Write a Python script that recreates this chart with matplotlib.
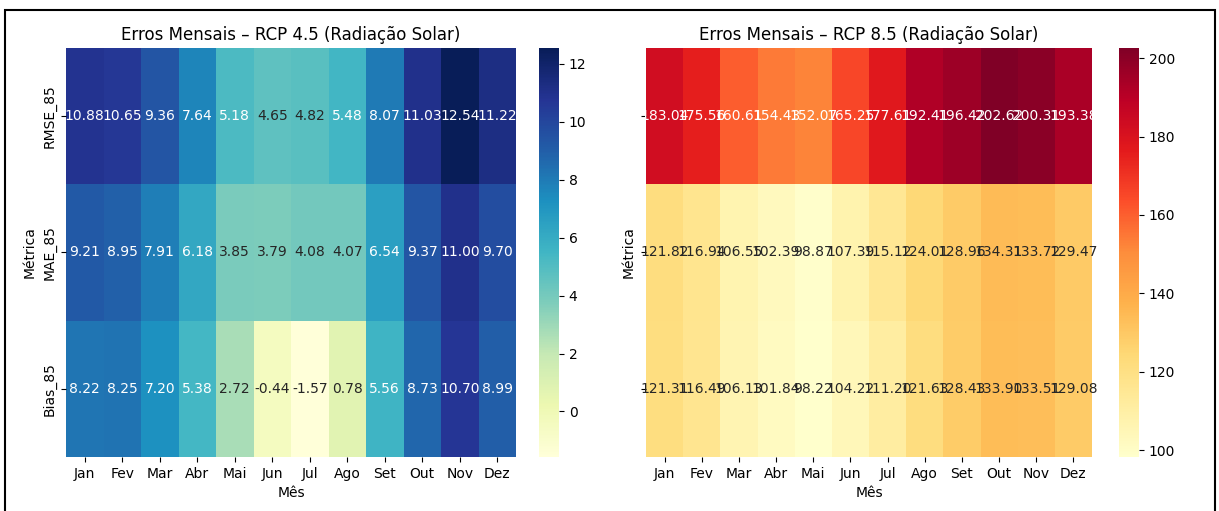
#!/usr/bin/env python3

import numpy as np
import pandas as pd
import matplotlib
matplotlib.use("Agg")
import matplotlib.pyplot as plt
from matplotlib.patches import Rectangle
import seaborn as sns


meses = ["Jan", "Fev", "Mar", "Abr", "Mai", "Jun", "Jul", "Ago", "Set", "Out", "Nov", "Dez"]
metricas = ["RMSE_85", "MAE_85", "Bias_85"]

# RCP 4.5
rmse_45 = [10.88, 10.65, 9.36, 7.64, 5.18, 4.65, 4.82, 5.48, 8.07, 11.03, 12.54, 11.22]
mae_45 = [9.21, 8.95, 7.91, 6.18, 3.85, 3.79, 4.08, 4.07, 6.54, 9.37, 11.00, 9.70]
bias_45 = [8.22, 8.25, 7.20, 5.38, 2.72, -0.44, -1.57, 0.78, 5.56, 8.73, 10.70, 8.99]

# RCP 8.5
rmse_85 = [183.04, 175.56, 160.61, 154.43, 152.07, 165.25, 177.61, 192.41, 196.42, 202.62, 200.31, 193.38]
mae_85 = [121.82, 116.94, 106.55, 102.39, 98.87, 107.39, 115.12, 124.01, 128.96, 134.31, 133.72, 129.47]
bias_85 = [121.31, 116.49, 106.13, 101.84, 98.22, 104.22, 111.20, 121.63, 128.43, 133.90, 133.51, 129.08]


df_45 = pd.DataFrame([rmse_45, mae_45, bias_45], index=metricas, columns=meses)
df_85 = pd.DataFrame([rmse_85, mae_85, bias_85], index=metricas, columns=meses)

W, H = 1219, 511
fig = plt.figure(figsize=(W / 100, H / 100), dpi=100)

def px_axes(x0, x1, y0, y1):
    return fig.add_axes([x0 / W, 1 - y1 / H, (x1 - x0) / W, (y1 - y0) / H])

ax1 = px_axes(66, 516, 48, 457)
cax1 = px_axes(539, 559, 48, 457)
ax2 = px_axes(646, 1092, 48, 457)
cax2 = px_axes(1119, 1139, 48, 457)

sns.heatmap(df_45, ax=ax1, cbar_ax=cax1, cmap="YlGnBu", annot=True, fmt=".2f",
            annot_kws={"fontsize": 10})
ax1.set_title("Erros Mensais – RCP 4.5 (Radiação Solar)", fontsize=12)
ax1.set_xlabel("Mês")
ax1.set_ylabel("Métrica")
ax1.set_yticklabels(metricas, rotation=90, va="center")
ax1.set_xticklabels(meses, rotation=0)

sns.heatmap(df_85, ax=ax2, cbar_ax=cax2, cmap="YlOrRd", annot=True, fmt=".2f",
            annot_kws={"fontsize": 10})
ax2.set_title("Erros Mensais – RCP 8.5 (Radiação Solar)", fontsize=12)
ax2.set_xlabel("Mês")
ax2.set_ylabel("Métrica")
ax2.tick_params(axis="y", labelleft=False)
ax2.set_xticklabels(meses, rotation=0)

# moldura preta da captura
fig.patches.append(Rectangle((5 / W, -0.05), 1210 / W, 1.05 - 10 / H,
                             transform=fig.transFigure, fill=False,
                             edgecolor="black", linewidth=1.5))

fig.savefig("out.png", dpi=100)
#
